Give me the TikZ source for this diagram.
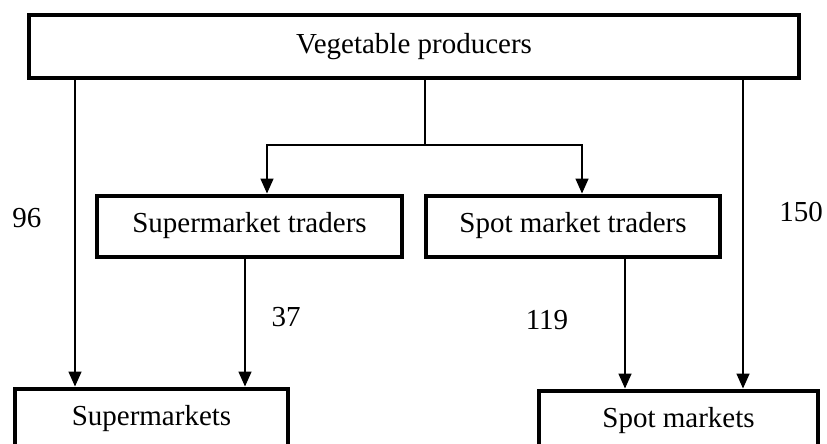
\documentclass[tikz,border=0pt]{standalone}
\usepackage{fontspec}
\setmainfont{Liberation Serif}
\usetikzlibrary{arrows.meta}
\tikzset{
	stage/.style={draw=black, line width=4pt, inner sep=0pt, minimum height=61pt, font=\fontsize{29}{34}\selectfont},
	flow/.style={line width=1.6pt, -{Triangle[length=15pt,width=13pt]}},
	link/.style={line width=1.6pt},
	amount/.style={font=\fontsize{29}{34}\selectfont}
}

\begin{document}
\begin{tikzpicture}[x=1pt, y=-1pt]
			%%%%% START %%%%%
			\useasboundingbox (0, 0) rectangle (827, 444);
			
			\node[stage, minimum width=770pt, minimum height=63.5pt] (prod) at (414, 46.3) {Vegetable producers};
			
			\node[stage, minimum width=305pt] (smt) at (249.5, 226) {Supermarket traders};
			\node[stage, minimum width=294pt] (spt) at (573, 226) {Spot market traders};
			
			\node[stage, minimum width=273pt] (sm) at (151.5, 419) {Supermarkets};
			\node[stage, minimum width=279pt] (spm) at (678.5, 421) {Spot markets};
			
			\coordinate (xa) at (75, 0);
			\coordinate (xb) at (425, 145);
			\coordinate (xc) at (267, 145);
			\coordinate (xd) at (582, 145);
			\coordinate (xe) at (245, 0);
			\coordinate (xf) at (625, 0);
			\coordinate (xg) at (743, 0);
			
			\draw[flow] (prod.south -| xa) -- (sm.north -| xa);
			\draw[flow] (prod.south -| xg) -- (spm.north -| xg);
			
			\draw[link] (prod.south -| xb) -- (xb);
			\draw[flow] (xb) -- (xc) -- (smt.north -| xc);
			\draw[flow] (xb) -- (xd) -- (spt.north -| xd);
			
			\draw[flow] (smt.south -| xe) -- (sm.north -| xe);
			\draw[flow] (spt.south -| xf) -- (spm.north -| xf);
			
			\node[amount] (n96) at (27, 218) {96};
			\node[amount] (n150) at (801, 212) {150};
			\node[amount] (n37) at (286, 317) {37};
			\node[amount] (n119) at (547, 320) {119};
			
			%%%%% END %%%%%
		\end{tikzpicture}
\end{document}
